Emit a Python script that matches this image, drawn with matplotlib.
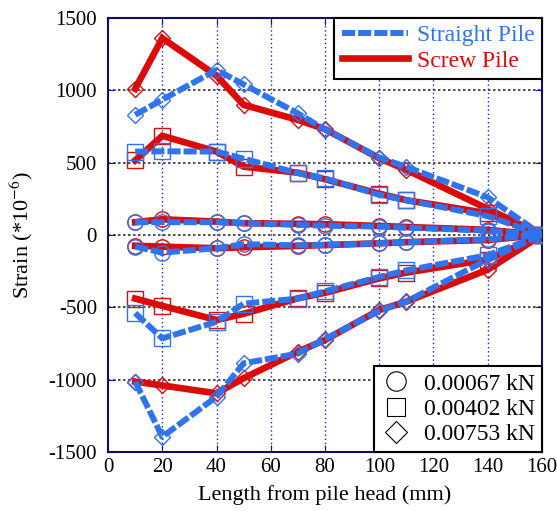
import numpy as np
import matplotlib.pyplot as plt
from matplotlib.lines import Line2D

plt.rcParams['font.family'] = ['Liberation Serif', 'DejaVu Serif']
plt.rcParams['mathtext.fontset'] = 'stix'
plt.rcParams['axes.unicode_minus'] = False

# positions along the pile (mm)
x = [10, 20, 40, 50, 70, 80, 100, 110, 140, 160]

# strain (*10^-6) -- straight pile
straight_c_pos = [88, 88, 88, 82, 69, 64, 57, 50, 30, 0]
straight_c_neg = [-81, -122, -92, -64, -72, -69, -58, -50, -30, 0]
straight_s_pos = [576, 578, 576, 527, 427, 390, 277, 240, 130, 0]
straight_s_neg = [-540, -715, -600, -475, -440, -390, -290, -245, -140, 0]
straight_d_pos = [830, 935, 1140, 1040, 840, 728, 535, 470, 260, 0]
straight_d_neg = [-1014, -1395, -1118, -887, -820, -720, -525, -460, -170, 0]

# strain (*10^-6) -- screw pile
screw_c_pos = [88, 108, 92, 81, 77, 74, 62, 55, 35, 0]
screw_c_neg = [-75, -81, -92, -85, -76, -70, -58, -50, -35, 0]
screw_s_pos = [515, 685, 576, 472, 430, 385, 285, 240, 150, 0]
screw_s_neg = [-440, -490, -588, -545, -438, -400, -300, -260, -170, 0]
screw_d_pos = [1010, 1360, 1100, 899, 795, 731, 530, 450, 180, 0]
screw_d_neg = [-1014, -1040, -1095, -990, -807, -726, -519, -461, -240, 0]

blue = '#2f74ee'
red = '#dd0a0a'

fig = plt.figure(figsize=(5.57, 5.11), dpi=100)
ax = fig.add_axes([0.194, 0.1155, 0.779, 0.8495])

screw = [(screw_c_pos, 'o'), (screw_c_neg, 'o'), (screw_s_pos, 's'),
         (screw_s_neg, 's'), (screw_d_pos, 'D'), (screw_d_neg, 'D')]
straight = [(straight_c_pos, 'o'), (straight_c_neg, 'o'), (straight_s_pos, 's'),
            (straight_s_neg, 's'), (straight_d_pos, 'D'), (straight_d_neg, 'D')]

sizes = {'o': 11, 's': 11, 'D': 8.5}

for y, m in screw:
    ax.plot(x, y, color=red, lw=4.8, solid_joinstyle='miter', zorder=3)
    ax.plot(x, y, ls='none', marker=m, ms=sizes[m], mfc='none', mec=red,
            mew=1.0, zorder=4)

for y, m in straight:
    ax.plot(x, y, color=blue, lw=4.3, dashes=(2.2, 0.5), zorder=5)
    ax.plot(x, y, ls='none', marker=m, ms=sizes[m], mfc='none', mec=blue,
            mew=1.0, zorder=6)

ax.set_xlim(0, 160)
ax.set_ylim(-1500, 1500)
ax.set_xticks(np.arange(0, 161, 20))
ax.set_yticks(np.arange(-1500, 1501, 500))
ax.tick_params(direction='in', labelsize=15, length=5, color='#1010c0',
               top=True, right=True)
ax.tick_params(axis='y', pad=8)
ax.tick_params(axis='x', pad=4)

for v in range(20, 160, 20):
    ax.axvline(v, color='#2020d0', ls=(0, (1, 2)), lw=1.0, zorder=1)
for v in range(-1000, 1500, 500):
    ax.axhline(v, color='#333333', ls=(0, (1.5, 1.5)), lw=1.2, zorder=1)

for s in ax.spines.values():
    s.set_color('#101060')
    s.set_linewidth(1.5)

ax.set_xlabel('Length from pile head (mm)', fontsize=16, labelpad=6)
ax.set_ylabel('Strain (*10$^{-6}$)', fontsize=16, labelpad=10)

pile_handles = [Line2D([], [], color=blue, lw=4.3, dashes=(2.2, 0.5)),
                Line2D([], [], color=red, lw=4.8)]
leg1 = ax.legend(pile_handles, ['Straight Pile', 'Screw Pile'], loc='upper right',
                 fontsize=17, fancybox=False, edgecolor='black', framealpha=1,
                 handlelength=2.8, borderaxespad=0.0, labelspacing=0.15,
                 handletextpad=0.4, borderpad=0.3)
leg1.get_frame().set_linewidth(1.5)
leg1.set_zorder(10)
for t, c in zip(leg1.get_texts(), [blue, red]):
    t.set_color(c)
ax.add_artist(leg1)

load_handles = [Line2D([], [], ls='none', marker='o', ms=14, mfc='none', mec='black', mew=0.8),
                Line2D([], [], ls='none', marker='s', ms=13, mfc='none', mec='black', mew=0.8),
                Line2D([], [], ls='none', marker='D', ms=11, mfc='none', mec='black', mew=0.8)]
leg2 = ax.legend(load_handles, ['0.00067 kN', '0.00402 kN', '0.00753 kN'],
                 loc='lower right', fontsize=17, fancybox=False, edgecolor='black',
                 framealpha=1, handlelength=1.2, borderaxespad=0.0,
                 labelspacing=0.15, handletextpad=0.6, borderpad=0.3)
leg2.get_frame().set_linewidth(1.5)
leg2.set_zorder(10)

fig.savefig('out.png', dpi=100)
